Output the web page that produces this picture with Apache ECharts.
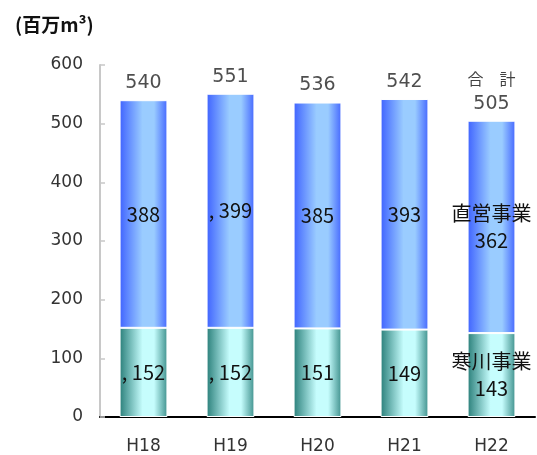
<!DOCTYPE html>
<html>
<head>
<meta charset="utf-8">
<script src="https://cdn.jsdelivr.net/npm/echarts@6/dist/echarts.min.js"></script>
<style>
  html, body { margin: 0; padding: 0; background: #fff; }
  #chart { width: 537px; height: 455px; }
</style>
</head>
<body>
<div id="chart"></div>
<script>
// Fiscal years (Heisei)
const years = ['H18', 'H19', 'H20', 'H21', 'H22'];
// 寒川事業 (lower segment), 百万m³
const samukawa = [152, 152, 151, 149, 143];
// 直営事業 (upper segment), 百万m³
const chokuei = [388, 399, 385, 393, 362];
// 合計
const totals = [540, 551, 536, 542, 505];
// text printed before some segment values
const samukawaPrefix = [', ', ', ', '', '', ''];
const chokueiPrefix = ['', ', ', '', '', ''];
// y-axis ticks
const yTicks = [0, 100, 200, 300, 400, 500, 600];

const chart = echarts.init(document.getElementById('chart'));
const last = years.length - 1;
const inFont = '"Noto Sans CJK JP", sans-serif';
const outFont = '"DejaVu Sans", sans-serif';

const tealFill = new echarts.graphic.LinearGradient(0, 0, 1, 0, [
  { offset: 0, color: '#2a7f7a' },
  { offset: 0.48, color: '#c6fdfd' },
  { offset: 0.72, color: '#c6fdfd' },
  { offset: 1, color: '#3f918d' }
]);
const blueFill = new echarts.graphic.LinearGradient(0, 0, 1, 0, [
  { offset: 0, color: '#3f63ff' },
  { offset: 0.48, color: '#9accff' },
  { offset: 0.72, color: '#9accff' },
  { offset: 1, color: '#4568ff' }
]);

chart.setOption({
  animation: false,
  title: {
    text: '(百万m³)',
    left: 10, top: 10,
    textStyle: { fontFamily: inFont, fontSize: 19, fontWeight: 'bold', color: '#111' }
  },
  grid: { left: 100, right: 2, top: 65, bottom: 38 },
  xAxis: {
    type: 'category',
    data: years,
    axisLine: { lineStyle: { color: '#000', width: 2 } },
    axisTick: { inside: true, length: 5, lineStyle: { color: '#000', width: 2 } },
    axisLabel: { margin: 21, fontFamily: outFont, fontSize: 17, color: '#333' }
  },
  yAxis: {
    type: 'value',
    min: yTicks[0], max: yTicks[yTicks.length - 1], interval: 100,
    axisLine: { show: true, lineStyle: { color: '#c8c8c8', width: 2 } },
    axisTick: { show: true, inside: true, length: 5, lineStyle: { color: '#c8c8c8', width: 1.5 } },
    splitLine: { show: false },
    axisLabel: { margin: 17, fontFamily: outFont, fontSize: 17, color: '#333' }
  },
  series: [
    {
      name: '寒川事業', type: 'bar', stack: 'w', barWidth: '55%',
      data: samukawa,
      itemStyle: { color: tealFill, borderColor: '#fff', borderWidth: 1 },
      label: {
        show: true, position: 'inside',
        fontFamily: inFont, fontSize: 20, color: '#111', lineHeight: 27,
        formatter: p => p.dataIndex === last
          ? '寒川事業\n' + p.value
          : samukawaPrefix[p.dataIndex] + p.value
      }
    },
    {
      name: '直営事業', type: 'bar', stack: 'w', barWidth: '55%',
      data: chokuei,
      itemStyle: { color: blueFill, borderColor: '#fff', borderWidth: 1 },
      label: {
        show: true, position: 'inside',
        fontFamily: inFont, fontSize: 20, color: '#111', lineHeight: 27,
        formatter: p => p.dataIndex === last
          ? '直営事業\n' + p.value
          : chokueiPrefix[p.dataIndex] + p.value
      }
    },
    {
      name: '合計', type: 'scatter', symbolSize: 0,
      data: totals,
      label: {
        show: true, position: 'top', distance: 5,
        fontFamily: outFont, fontSize: 19, color: '#222', lineHeight: 24,
        formatter: p => p.dataIndex === last
          ? '{h|合　計}\n' + p.value
          : String(p.value),
        rich: { h: { fontFamily: inFont, fontSize: 16, color: '#111', lineHeight: 26 } }
      }
    }
  ]
});
</script>
</body>
</html>
